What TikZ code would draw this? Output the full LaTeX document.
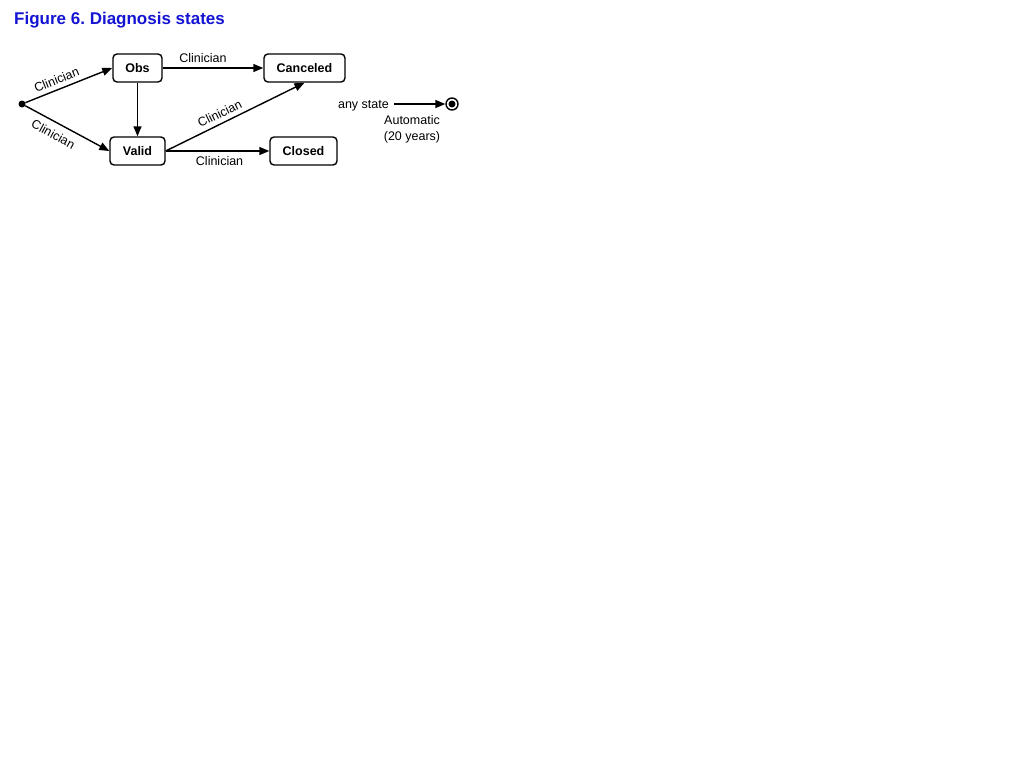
\documentclass[tikz,border=0pt]{standalone}
\usepackage{fontspec}
\setmainfont{Liberation Sans}
\usetikzlibrary{arrows.meta}
\definecolor{titleblue}{RGB}{20,20,210}
\begin{document}
\frenchspacing
\begin{tikzpicture}[x=1pt,y=-1pt,
  state/.style={draw,rounded corners=4pt,line width=1.4pt,inner sep=0pt,font=\fontsize{12.5}{14}\selectfont\bfseries,minimum height=28pt},
  trans/.style={line width=1.4pt,-{Triangle[length=10pt,width=8pt]}},
  lbl/.style={font=\fontsize{12.5}{15.5}\selectfont,inner sep=1.5pt}]
\useasboundingbox (0,0) rectangle (1024,768);
\node[font=\fontsize{17}{20}\selectfont\bfseries,text=titleblue,anchor=west,inner sep=0pt] (title) at (14,20) {Figure 6. Diagnosis states};
\node[state,minimum width=49pt] (obs) at (137.5,68) {Obs};
\node[state,minimum width=81pt] (canc) at (304.5,68) {Canceled};
\node[state,minimum width=55pt] (valid) at (137.5,151) {Valid};
\node[state,minimum width=67pt] (closed) at (303.5,151) {Closed};
\node[circle,fill,inner sep=0pt,minimum size=7pt] (init) at (22,104) {};
\node[circle,draw,line width=1.4pt,inner sep=0pt,minimum size=12pt] (final) at (452,104) {};
\node[circle,fill,inner sep=0pt,minimum size=7pt] (finaldot) at (452,104) {};
\node[lbl,anchor=east,inner sep=0pt] (any) at (389,106) {any state};
\node[lbl,align=center] (auto) at (412,129.5) {Automatic\\(20 years)};
\coordinate (anyend) at (394,104);
\draw[trans] (init) -- node[lbl,sloped,above,pos=0.4,inner sep=4.5pt] (l1) {Clinician} (obs.west);
\draw[trans] (init) -- node[lbl,sloped,below,pos=0.4,inner sep=6.5pt] (l2) {Clinician} (valid.west);
\draw[trans] (obs.south) -- (valid.north);
\draw[trans] (obs.east) -- node[lbl,above,pos=0.4,inner sep=5pt] (l3) {Clinician} (canc.west);
\draw[trans] (valid.east) -- node[lbl,sloped,above,pos=0.42,inner sep=4.5pt] (l4) {Clinician} (canc.south);
\draw[trans] (valid.east) -- node[lbl,below,pos=0.52,inner sep=4.5pt] (l5) {Clinician} (closed.west);
\draw[trans] (anyend) -- (final.west);
\end{tikzpicture}
\end{document}
